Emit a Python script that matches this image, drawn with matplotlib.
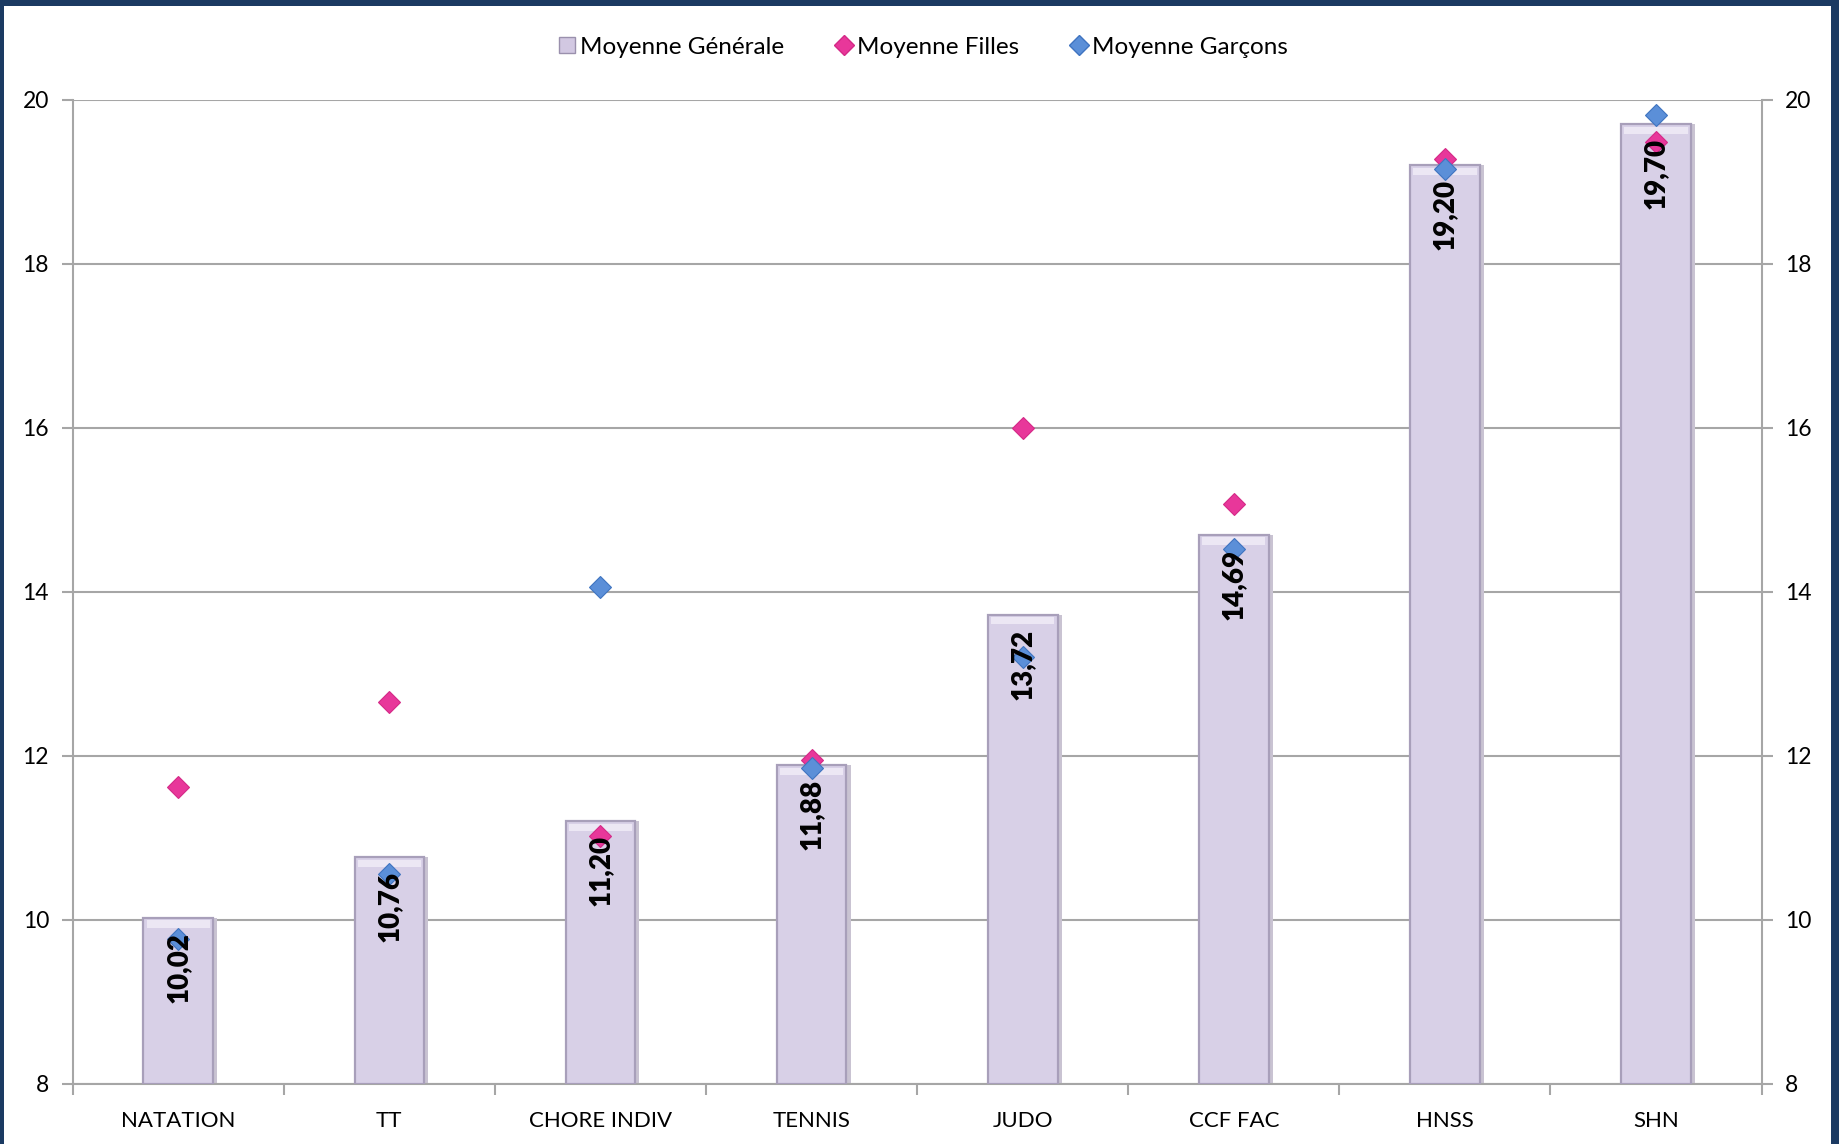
import matplotlib
matplotlib.use("Agg")
import matplotlib.pyplot as plt
from matplotlib.patches import Rectangle
from matplotlib.lines import Line2D
import numpy as np

categories = ["NATATION", "TT", "CHORE INDIV", "TENNIS", "JUDO", "CCF FAC", "HNSS", "SHN"]
moyenne_generale = [10.02, 10.76, 11.20, 11.88, 13.72, 14.69, 19.20, 19.70]
moyenne_filles = [11.62, 12.66, 11.02, 11.95, 16.00, 15.07, 19.27, 19.48]
moyenne_garcons = [9.77, 10.56, 14.06, 11.85, 13.20, 14.52, 19.15, 19.81]
labels_generale = ["10,02", "10,76", "11,20", "11,88", "13,72", "14,69", "19,20", "19,70"]
y_ticks = [8, 10, 12, 14, 16, 18, 20]

plt.rcParams['font.family'] = ['Lato', 'DejaVu Sans']

W, H = 1839, 1144
fig = plt.figure(figsize=(W / 100, H / 100), dpi=100, facecolor='#1b3a62')
fig.add_artist(Rectangle((4 / W, 0), (1831 - 4) / W, 1 - 6 / H, transform=fig.transFigure,
                         facecolor='white', edgecolor='none', zorder=0))

left, right = 72.7 / W, 1761.6 / W
bottom, top = 1 - 1083.7 / H, 1 - 99.5 / H
ax = fig.add_axes([left, bottom, right - left, top - bottom])
ax.set_facecolor('none')

x = np.arange(len(categories))
grid_c = '#a6a6a6'

# bar shadow
ax.bar(x + 0.012, np.array(moyenne_generale) - 8, bottom=8, width=0.345, color='#c9c3d2',
       edgecolor='none', zorder=2)
bars = ax.bar(x, np.array(moyenne_generale) - 8, bottom=8, width=0.33, color='#d8d0e7',
              edgecolor='#a89fba', linewidth=1.6, zorder=3)
# highlight cap
for xi, v in zip(x, moyenne_generale):
    ax.add_patch(Rectangle((xi - 0.15, v - 0.12), 0.30, 0.09, facecolor='#ece7f4',
                           edgecolor='none', zorder=3.5))

ax.plot(x, moyenne_filles, linestyle='none', marker='D', markersize=11,
        color='#e8379a', markeredgecolor='#d42a87', markeredgewidth=0.8, zorder=4)
ax.plot(x, moyenne_garcons, linestyle='none', marker='D', markersize=11,
        color='#5b8fd8', markeredgecolor='#3f74c0', markeredgewidth=0.8, zorder=4)

for xi, v, lab in zip(x, moyenne_generale, labels_generale):
    ax.annotate(lab, (xi, v), xytext=(0, -10), textcoords='offset points',
                rotation=90, ha='center', va='top', fontsize=20, fontweight='heavy',
                color='black', zorder=5)

ax.set_xlim(-0.5, len(categories) - 0.5)
ax.set_ylim(8, 20)
ax.set_yticks(y_ticks)
ax.set_yticklabels([str(t) for t in y_ticks])
ax.yaxis.grid(True, color=grid_c, linewidth=1.5, zorder=1)
ax.set_axisbelow(True)

ax.set_xticks(x)
ax.set_xticklabels(categories)
ax.set_xticks(np.arange(len(categories) + 1) - 0.5, minor=True)
ax.tick_params(axis='x', which='major', length=0, pad=20, labelsize=16, colors='black')
ax.tick_params(axis='x', which='minor', length=8, width=1.5, color=grid_c, direction='out')
ax.tick_params(axis='y', which='major', length=8, width=1.5, color=grid_c, direction='out',
               labelsize=16.5, labelcolor='black', right=True, labelright=True, pad=9)

for s in ['left', 'right', 'bottom']:
    ax.spines[s].set_color(grid_c)
    ax.spines[s].set_linewidth(1.5)
ax.spines['top'].set_visible(False)

handles = [
    Line2D([], [], linestyle='none', marker='s', markersize=11, color='#d2c8e2',
           markeredgecolor='#9a90ad', markeredgewidth=1),
    Line2D([], [], linestyle='none', marker='D', markersize=10, color='#e8379a',
           markeredgecolor='#d42a87'),
    Line2D([], [], linestyle='none', marker='D', markersize=10, color='#5b8fd8',
           markeredgecolor='#3f74c0'),
]
fig.legend(handles, ["Moyenne Générale", "Moyenne Filles", "Moyenne Garçons"],
           loc='center', bbox_to_anchor=(0.501, 1 - 47 / H), ncol=3, frameon=False,
           fontsize=17.5, handletextpad=0.0, columnspacing=2.0, handlelength=1.0)

fig.savefig('out.png', dpi=100, facecolor=fig.get_facecolor())
